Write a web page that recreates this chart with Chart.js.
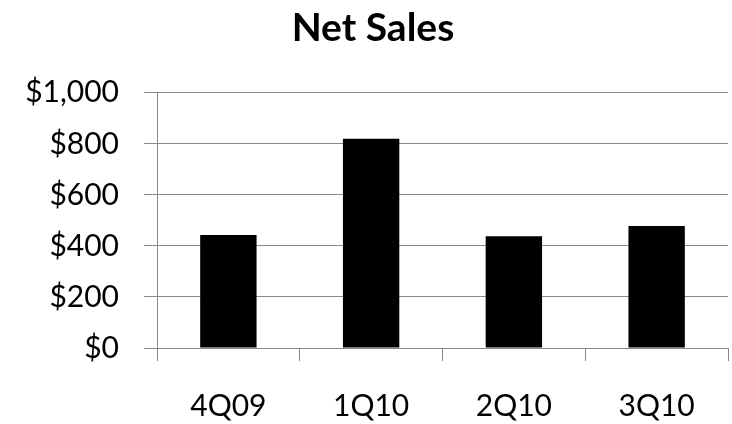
<!DOCTYPE html>
<html>
<head>
<meta charset="utf-8">
<title>Net Sales</title>
<script src="https://cdn.jsdelivr.net/npm/chart.js@4.4.1/dist/chart.umd.min.js"></script>
<style>
  html, body { margin: 0; padding: 0; background: #fff; }
  .wrap { width: 732px; height: 424px; }
</style>
</head>
<body>
<div class="wrap"><canvas id="salesChart" width="732" height="424"></canvas></div>
<script>
const quarters = ["4Q09", "1Q10", "2Q10", "3Q10"]
const netSales = [443, 820, 438, 478]
const yTicks = [0, 200, 400, 600, 800, 1000]

const gridGray = "#8a8a8a"
const labelFont = { family: "Lato, 'Open Sans', sans-serif", size: 30 }

const ctx = document.getElementById("salesChart").getContext("2d")

new Chart(ctx, {
  type: "bar",
  data: {
    labels: quarters,
    datasets: [
      {
        label: "Net Sales",
        data: netSales,
        backgroundColor: "#000",
        borderColor: "#000",
        borderWidth: 0,
        barPercentage: 0.395,
        categoryPercentage: 1,
      },
    ],
  },
  options: {
    responsive: false,
    animation: false,
    layout: { padding: { left: 18, right: 4, top: 0, bottom: 0 } },
    plugins: {
      legend: { display: false },
      tooltip: { enabled: false },
      title: {
        display: true,
        text: "Net Sales",
        color: "#000",
        font: { family: "Lato, 'Open Sans', sans-serif", size: 39, weight: "bold" },
        padding: { top: 5, bottom: 41 },
      },
    },
    scales: {
      x: {
        grid: {
          offset: true,
          drawOnChartArea: false,
          color: gridGray,
          tickLength: 13,
        },
        border: { color: gridGray },
        ticks: { color: "#000", font: labelFont, padding: 27, maxRotation: 0 },
        afterFit: (scale) => { scale.height = 76 },
      },
      y: {
        min: 0,
        max: 1000,
        afterBuildTicks: (scale) => {
          scale.ticks = yTicks.map((v) => ({ value: v }))
        },
        grid: { color: gridGray, tickLength: 13 },
        border: { color: gridGray },
        ticks: {
          color: "#000",
          font: labelFont,
          padding: 25,
          callback: (value) => "$" + value.toLocaleString("en-US"),
        },
        // keep the plot's left edge fixed regardless of label widths
        afterFit: (scale) => { scale.width = 139 },
      },
    },
  },
})
</script>
</body>
</html>
